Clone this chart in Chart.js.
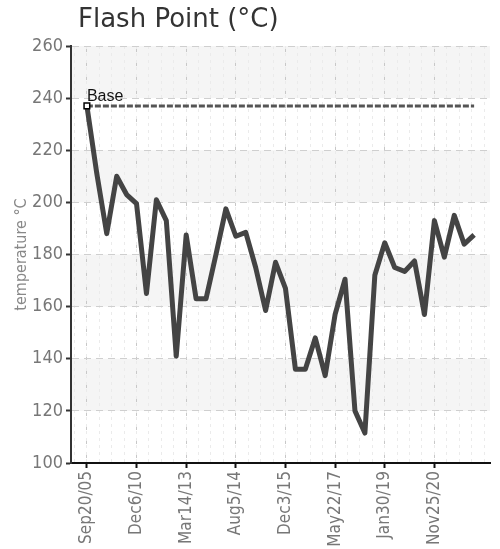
<!DOCTYPE html>
<html>
<head>
<meta charset="utf-8">
<script src="https://cdn.jsdelivr.net/npm/chart.js@4/dist/chart.umd.min.js"></script>
<style>
html, body { margin: 0; padding: 0; background: #fff; }
#wrap { width: 500px; height: 549px; }
</style>
</head>
<body>
<div id="wrap"><canvas id="flashChart"></canvas></div>
<script>
var titleText = 'Flash Point (°C)';
var yTitle = 'temperature °C';
var baseLabel = 'Base';
var baseValue = 237;

// one label every 5 samples
var tickLabels = ['Sep20/05', 'Dec6/10', 'Mar14/13', 'Aug5/14', 'Dec3/15', 'May22/17', 'Jan30/19', 'Nov25/20'];

var flashPoint = [237, 211, 188, 210, 203, 199.5, 165, 201, 193, 141,
                  187.5, 163, 163, 180, 197.5, 187, 188.5, 175, 158.5, 177,
                  167, 136, 136, 148, 133.5, 157, 170.5, 120, 111.5, 172,
                  184.5, 175, 173.5, 177.5, 157, 193, 179, 195, 184, 187.5];

var narrow = "'DejaVu Sans Condensed', 'Roboto Condensed', 'Liberation Sans Narrow', Roboto, sans-serif";

var bandsPlugin = {
    id: 'bands',
    beforeDraw: function(chart) {
        var ctx = chart.ctx, area = chart.chartArea, y = chart.scales.y;
        ctx.save();
        ctx.fillStyle = '#f5f5f5';
        for (var i = 1; i < y.ticks.length - 1; i += 2) {
            var top = y.getPixelForValue(y.ticks[i + 1].value);
            var bottom = y.getPixelForValue(y.ticks[i].value);
            ctx.fillRect(area.left, top, area.right - area.left, bottom - top);
        }
        ctx.restore();
    }
};

var textPlugin = {
    id: 'texts',
    afterDraw: function(chart) {
        var ctx = chart.ctx;
        ctx.save();
        ctx.fillStyle = '#333';
        ctx.font = '26px "DejaVu Sans"';
        ctx.textBaseline = 'alphabetic';
        ctx.fillText(titleText, 78, 27);
        // label over the base marker
        var pt = chart.getDatasetMeta(0).data[0];
        ctx.fillStyle = '#111';
        ctx.font = '16px "Liberation Sans"';
        ctx.fillText(baseLabel, pt.x, pt.y - 5);
        ctx.restore();
    }
};

var ctx = document.getElementById('flashChart').getContext('2d');
var chart = new Chart(ctx, {
    type: 'line',
    data: {
        datasets: [{
            label: baseLabel,
            data: [{x: 0, y: baseValue}, {x: flashPoint.length - 1, y: baseValue}],
            borderColor: '#555',
            borderWidth: 3,
            borderDash: [6, 2],
            pointStyle: 'rect',
            pointRadius: [4, 0],
            pointBackgroundColor: '#fff',
            pointBorderColor: '#000',
            pointBorderWidth: 1.5
        }, {
            label: 'Flash Point',
            data: flashPoint.map(function(v, i) { return {x: i, y: v}; }),
            borderColor: '#444',
            borderWidth: 5,
            borderJoinStyle: 'round',
            pointRadius: 0,
            tension: 0
        }]
    },
    options: {
        responsive: true,
        maintainAspectRatio: false,
        animation: false,
        layout: { padding: { top: 46, right: 10, left: 0, bottom: 0 } },
        plugins: { legend: { display: false }, tooltip: { enabled: false } },
        scales: {
            x: {
                type: 'linear',
                position: 'bottom',
                min: -1.6,
                max: 40.6,
                afterFit: function(s) { s.height = 86; s.paddingLeft = 0; s.paddingRight = 0; },
                ticks: {
                    stepSize: 5,
                    includeBounds: false,
                    autoSkip: false,
                    maxRotation: 90,
                    minRotation: 90,
                    color: '#777',
                    font: { family: narrow, size: 17 },
                    callback: function(v) { return tickLabels[v / 5] || ''; }
                },
                grid: {
                    color: function(c) { return c.tick && c.tick.value < 40 ? '#c8c8c8' : 'transparent'; },
                    tickColor: function(c) { return c.tick && c.tick.value < 40 ? '#111' : 'transparent'; },
                    tickLength: 5,
                    tickWidth: 2
                },
                border: { color: '#111', width: 2, dash: [6, 8] }
            },
            xMinor: {
                type: 'linear',
                position: 'top',
                min: -1.6,
                max: 40.6,
                afterFit: function(s) { s.height = 0; s.paddingLeft = 0; s.paddingRight = 0; },
                ticks: { display: false, stepSize: 1.25, includeBounds: false },
                grid: { color: '#ebebeb', drawTicks: false },
                border: { display: false, dash: [3, 4] }
            },
            y: {
                min: 100,
                max: 260,
                afterFit: function(s) { s.width = 71; },
                ticks: {
                    stepSize: 20,
                    color: '#777',
                    padding: 3,
                    font: { family: narrow, size: 18 }
                },
                grid: { color: '#cfcfcf', tickColor: '#333', tickLength: 5, tickWidth: 2 },
                border: { color: '#333', width: 2, dash: [7, 5] },
                title: {
                    display: true,
                    text: yTitle,
                    color: '#888',
                    padding: { top: 12, bottom: 0 },
                    font: { family: narrow, size: 16 }
                }
            }
        }
    },
    plugins: [bandsPlugin, textPlugin]
});
</script>
</body>
</html>
